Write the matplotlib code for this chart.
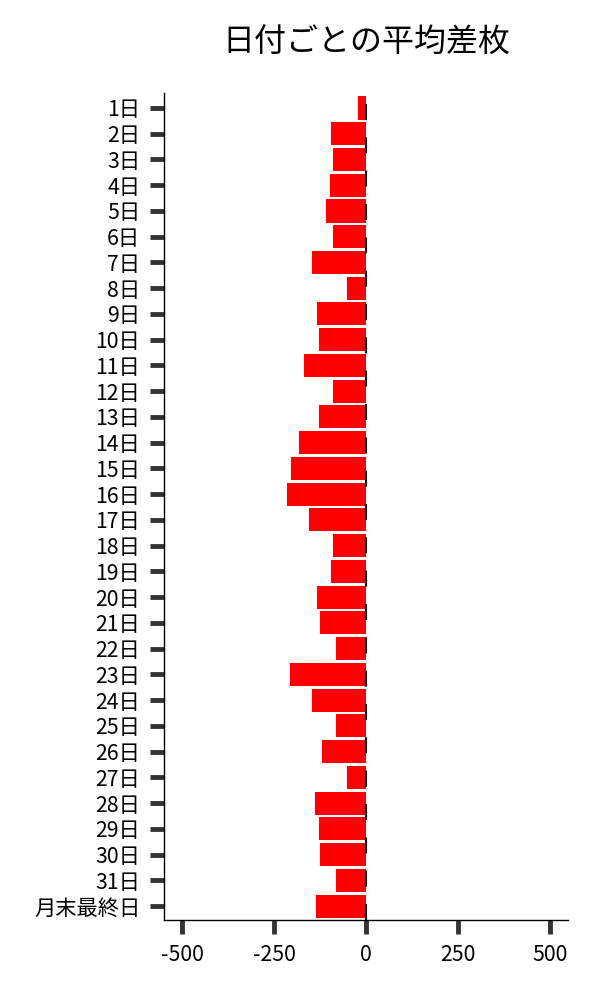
import matplotlib
matplotlib.use("Agg")
import matplotlib.pyplot as plt

plt.rcParams['font.family'] = ['Noto Sans CJK JP', 'DejaVu Sans']

days = [f"{i}日" for i in range(1, 32)] + ["月末最終日"]
avg_diff = [-21, -94, -89, -97, -110, -91, -146, -51, -132, -127,
            -170, -91, -129, -181, -205, -216, -154, -91, -94, -132,
            -124, -81, -208, -146, -81, -121, -53, -138, -127, -124,
            -81, -135]
xticks = [-500, -250, 0, 250, 500]

fig = plt.figure(figsize=(6, 10), dpi=100)
ax = fig.add_axes([0.273, 0.08, 0.674, 0.827])

pos = list(range(len(days)))
ax.barh(pos, avg_diff, height=0.9, color='#ff0000', zorder=2)
# dashes get scaled by linewidth, so divide by 1.5
ax.axvline(0, color='black', linewidth=1.5, dashes=(7.7, 8.3), zorder=3)

ax.set_yticks(pos)
ax.set_yticklabels(days)
ax.set_ylim(len(days) - 0.46, -0.58)
ax.set_xlim(-550, 550)
ax.set_xticks(xticks)
ax.set_xticklabels([str(v) for v in xticks])

ax.tick_params(axis='both', length=10, width=3.5, color='#333333',
               labelsize=15.3)
ax.tick_params(axis='y', pad=7)
ax.tick_params(axis='x', pad=7)
ax.spines['top'].set_visible(False)
ax.spines['right'].set_visible(False)
ax.spines['left'].set_linewidth(1)
ax.spines['bottom'].set_linewidth(1)

ax.set_title('日付ごとの平均差枚', fontsize=23, pad=30)

fig.savefig('out.png', dpi=100)
